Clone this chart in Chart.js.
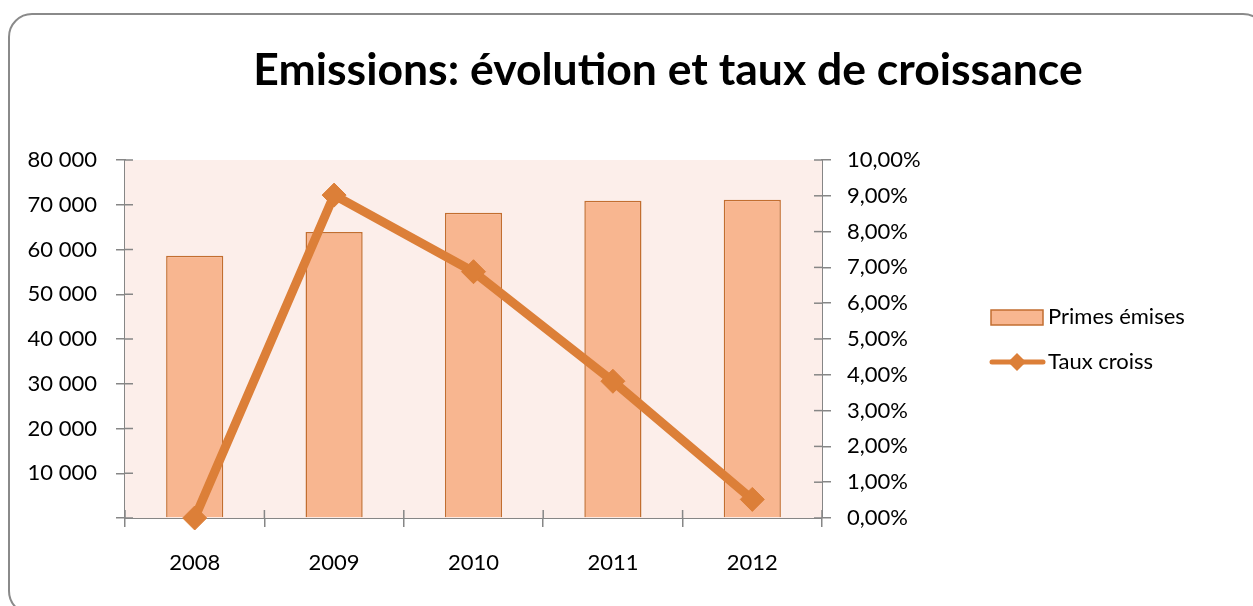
<!DOCTYPE html>
<html>
<head>
<meta charset="utf-8">
<script src="https://cdn.jsdelivr.net/npm/chart.js@4"></script>
<style>
  html, body { margin: 0; padding: 0; background: #fff; }
  body { width: 1253px; height: 606px; position: relative; overflow: hidden; }
  .frame {
    position: absolute; left: 8px; top: 13px; width: 1259px; height: 602px;
    box-sizing: border-box; border: 2px solid #8a8a8a; border-radius: 24px;
  }
  .chart-box { position: absolute; left: 0; top: 0; width: 1253px; height: 606px; }
</style>
</head>
<body>
<div class="frame"></div>
<div class="chart-box"><canvas id="emissions-chart"></canvas></div>
<script>
const years = ['2008', '2009', '2010', '2011', '2012'];
const primes_emises = [58600, 63900, 68200, 70900, 71100];
const taux_croiss = [0.0, 9.02, 6.88, 3.82, 0.52];   // en %
const legend_labels = ['Primes émises', 'Taux croiss'];

const bar_fill = '#F8B690';
const bar_edge = '#C26E30';
const line_color = '#DC7F38';
const axis_color = '#868686';
const plot_bg = '#FCEEEA';
const font_family = 'Lato, "Open Sans", sans-serif';

const fmtThousands = (v) => String(v).replace(/\B(?=(\d{3})+(?!\d))/g, ' ');

// fond de la zone de tracé
const plotBackground = {
  id: 'plotBackground',
  beforeDatasetsDraw(chart) {
    const {ctx, chartArea} = chart;
    ctx.save();
    ctx.fillStyle = plot_bg;
    ctx.fillRect(chartArea.left, chartArea.top, chartArea.right - chartArea.left, chartArea.bottom - chartArea.top);
    ctx.restore();
  }
};

// graduations qui traversent l'axe (partie intérieure)
const crossTicks = {
  id: 'crossTicks',
  afterDraw(chart) {
    const {ctx, chartArea, scales} = chart;
    const seg = (x1, y1, x2, y2) => { ctx.beginPath(); ctx.moveTo(x1, y1); ctx.lineTo(x2, y2); ctx.stroke(); };
    ctx.save();
    ctx.strokeStyle = axis_color;
    ctx.lineWidth = 1.5;
    scales.y.ticks.forEach(t => {
      const py = scales.y.getPixelForValue(t.value);
      seg(chartArea.left, py, chartArea.left + 8, py);
    });
    scales.y1.ticks.forEach(t => {
      const py = scales.y1.getPixelForValue(t.value);
      seg(chartArea.right - 8, py, chartArea.right, py);
    });
    for (let i = 0; i <= years.length; i++) {
      const px = scales.x.getPixelForValue(i - 0.5);
      seg(px, chartArea.bottom - 8, px, chartArea.bottom);
    }
    ctx.restore();
  }
};

// légende à droite, comme dans Excel
const sideLegend = {
  id: 'sideLegend',
  afterDraw(chart) {
    const {ctx, chartArea} = chart;
    const x0 = chartArea.right + 168;
    const y0 = 317, y1 = 362;
    ctx.save();
    ctx.fillStyle = bar_fill;
    ctx.strokeStyle = bar_edge;
    ctx.lineWidth = 1.5;
    ctx.fillRect(x0 + 1, y0 - 7, 52, 15);
    ctx.strokeRect(x0 + 1, y0 - 7, 52, 15);

    ctx.strokeStyle = line_color;
    ctx.lineWidth = 5;
    ctx.lineCap = 'round';
    ctx.beginPath(); ctx.moveTo(x0 + 2, y1); ctx.lineTo(x0 + 53, y1); ctx.stroke();
    ctx.fillStyle = line_color;
    const cx = x0 + 27, r = 9;
    ctx.beginPath();
    ctx.moveTo(cx - r, y1); ctx.lineTo(cx, y1 - r); ctx.lineTo(cx + r, y1); ctx.lineTo(cx, y1 + r);
    ctx.closePath(); ctx.fill();

    ctx.fillStyle = '#000';
    ctx.font = '22px ' + font_family;
    ctx.textBaseline = 'middle';
    ctx.fillText(legend_labels[0], x0 + 58, y0);
    ctx.fillText(legend_labels[1], x0 + 58, y1);
    ctx.restore();
  }
};

const container = document.getElementById('emissions-chart').getContext('2d');
const chart = new Chart(container, {
  type: 'bar',
  data: {
    labels: years,
    datasets: [
      {
        type: 'line',
        label: legend_labels[1],
        data: taux_croiss,
        yAxisID: 'y1',
        borderColor: line_color,
        backgroundColor: line_color,
        borderWidth: 9,
        borderJoinStyle: 'round',
        borderCapStyle: 'round',
        pointStyle: 'rectRot',
        pointRadius: 12,
        pointBorderWidth: 1,
        pointBackgroundColor: line_color,
        pointBorderColor: line_color,
        tension: 0,
        clip: false,
        order: 0,
      },
      {
        label: legend_labels[0],
        data: primes_emises,
        yAxisID: 'y',
        backgroundColor: bar_fill,
        borderColor: bar_edge,
        borderWidth: 1.5,
        barPercentage: 0.41,
        categoryPercentage: 1.0,
        order: 1,
      },
    ],
  },
  options: {
    responsive: true,
    maintainAspectRatio: false,
    animation: false,
    // marge droite négative pour centrer le titre comme dans Excel
    layout: { padding: { left: 20, right: -63, top: 0, bottom: 0 } },
    plugins: {
      legend: { display: false },
      tooltip: { enabled: false },
      title: {
        display: true,
        text: 'Emissions: évolution et taux de croissance',
        color: '#000',
        font: { family: font_family, size: 44.5, weight: 'bold' },
        padding: { top: 44.3, bottom: 62.3 },
      },
    },
    scales: {
      x: {
        z: 1,
        grid: { drawOnChartArea: false, drawTicks: true, tickLength: 9, color: axis_color, lineWidth: 1.5, offset: true },
        border: { display: true, color: axis_color, width: 2 },
        ticks: { color: '#000', padding: 23, font: { family: font_family, size: 22 } },
        afterFit: (scale) => { scale.height = 88; },
      },
      y: {
        position: 'left',
        min: 0,
        max: 80000,
        grid: { drawOnChartArea: false, drawTicks: true, tickLength: 9, color: axis_color, lineWidth: 1.5 },
        border: { display: true, color: axis_color, width: 2 },
        ticks: {
          stepSize: 10000,
          color: '#000',
          padding: 19,
          font: { family: font_family, size: 22 },
          callback: (v) => v === 0 ? '' : fmtThousands(v),
        },
        afterFit: (scale) => { scale.width = 105; },
      },
      y1: {
        position: 'right',
        min: 0,
        max: 10,
        grid: { drawOnChartArea: false, drawTicks: true, tickLength: 9, color: axis_color, lineWidth: 1.5 },
        border: { display: true, color: axis_color, width: 2 },
        ticks: {
          stepSize: 1,
          color: '#000',
          padding: 16,
          font: { family: font_family, size: 22 },
          callback: (v) => v.toFixed(2).replace('.', ',') + '%',
        },
        afterFit: (scale) => { scale.width = 494; },
      },
    },
  },
  plugins: [plotBackground, crossTicks, sideLegend],
});
</script>
</body>
</html>
